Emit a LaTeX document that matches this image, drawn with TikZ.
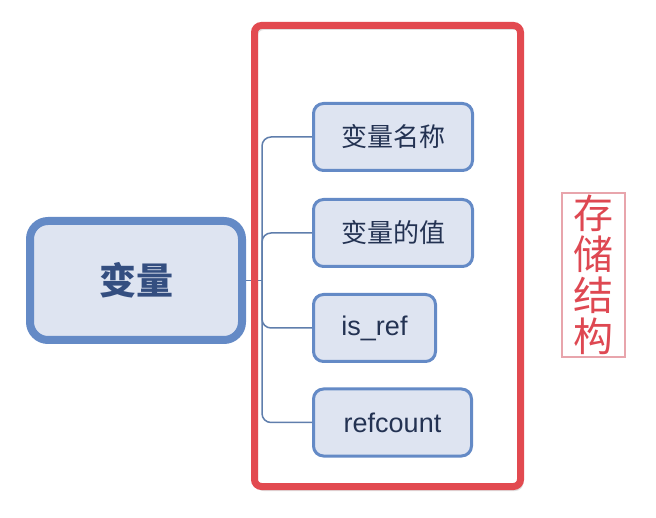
\documentclass[tikz,border=0pt]{standalone}
\usepackage{fontspec}
\setmainfont{Liberation Sans}
\newfontfamily\cjk{Noto Sans CJK SC}
\usetikzlibrary{positioning}
\definecolor{boxLine}{RGB}{100,138,198}
\definecolor{boxFill}{RGB}{222,228,241}
\definecolor{varText}{RGB}{52,78,128}
\definecolor{fieldText}{RGB}{35,50,82}
\definecolor{branchLine}{RGB}{95,126,172}
\definecolor{frameRed}{RGB}{226,74,80}
\definecolor{tagRed}{RGB}{222,72,82}
\definecolor{tagLine}{RGB}{232,165,172}

\tikzset{
  mainbox/.style={draw=boxLine, fill=boxFill, line width=8pt, rounded corners=18pt,
    minimum width=212pt, minimum height=119pt, text=varText,
    font=\cjk\bfseries\fontsize{37}{40}\selectfont},
  fieldbox/.style={draw=boxLine, fill=boxFill, line width=3pt, rounded corners=10pt,
    minimum width=159pt, minimum height=67pt, text=fieldText,
    font=\fontsize{27}{30}\selectfont},
  branch/.style={draw=branchLine, line width=1.5pt, rounded corners=9pt}
}

\begin{document}
\begin{tikzpicture}[x=1pt,y=-1pt]
  \useasboundingbox (0,0) rectangle (656,518);

  % the variable and its four fields
  \node[mainbox] (var) at (136,280.5) {变量};
  \node[fieldbox] (name) at (393,137) {\cjk\fontsize{26}{30}\selectfont 变量名称};
  \node[fieldbox] (value) at (393,233) {\cjk\fontsize{26}{30}\selectfont 变量的值};
  \node[fieldbox, minimum width=122pt] (isref) at (374.5,328) {is\_ref};
  \node[fieldbox, minimum width=158pt] (refcount) at (392.5,422.5) {refcount};

  % tree connectors
  \coordinate (hub) at (262,280.5);
  \draw[branch] (var.east) -- (hub);
  \foreach \f in {name,value,isref,refcount}
    \draw[branch] (hub) |- (\f.west);

  % red frame round the fields, with a faint shadow
  \draw[black!60, opacity=0.2, line width=3pt, rounded corners=7pt]
    (256.5,28.5) rectangle (522,489.5);
  \draw[frameRed, line width=7pt, rounded corners=7pt]
    (254.5,25.5) rectangle (520.5,486.5);

  % side tag
  \node[draw=tagLine, line width=1.5pt, inner sep=0pt, minimum width=63pt,
    minimum height=164pt, text=tagRed, align=center,
    font=\cjk\fontsize{40}{41}\selectfont] (tag) at (593.5,275) {存\\储\\结\\构};
\end{tikzpicture}
\end{document}
